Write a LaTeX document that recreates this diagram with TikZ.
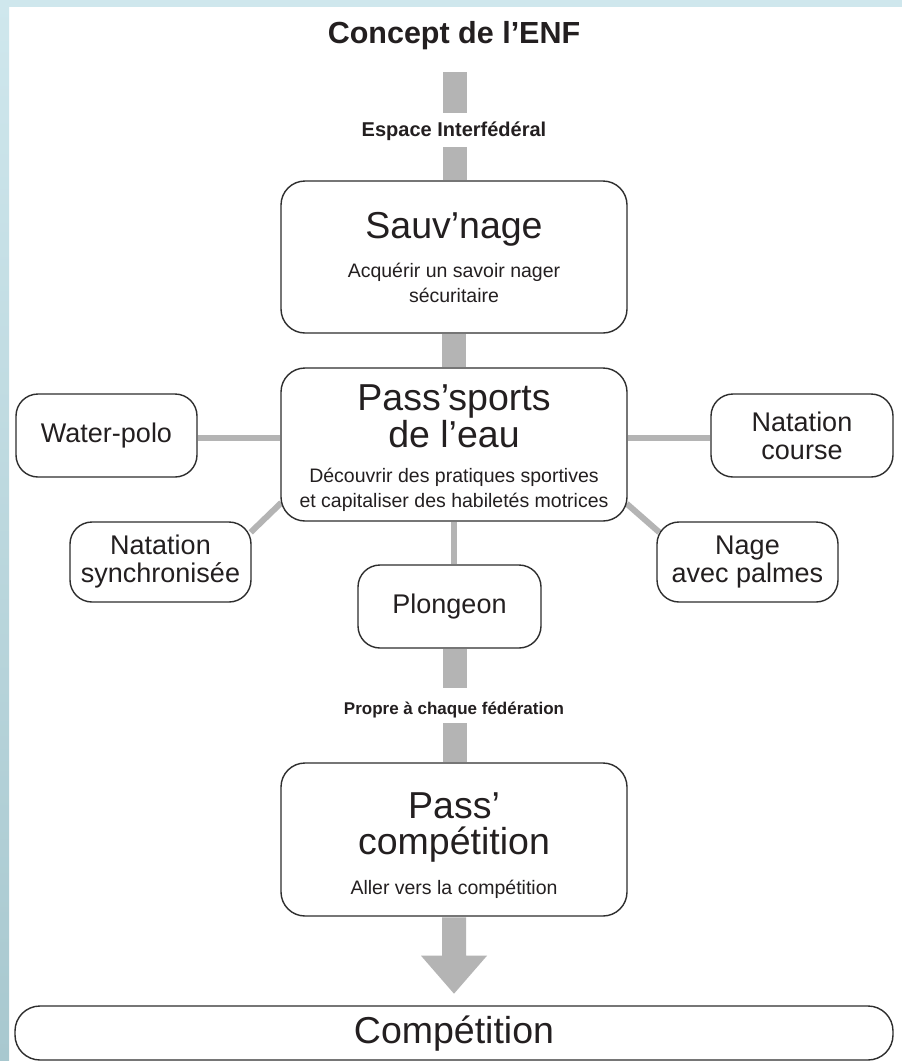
\documentclass[tikz,border=0pt]{standalone}
\usepackage{fontspec}
\setmainfont{Liberation Sans}
\usetikzlibrary{calc}
\pgfdeclarelayer{bg}
\pgfdeclarelayer{links}
\pgfsetlayers{bg,links,main}
\definecolor{txt}{HTML}{231F20}
\definecolor{barc}{HTML}{B4B4B4}
\definecolor{edge}{HTML}{2E2E2E}
\definecolor{bgtop}{HTML}{CFE7ED}
\definecolor{bgbot}{HTML}{A8C8CF}
\begin{document}
\begin{tikzpicture}[x=1pt,y=-1pt,
  box/.style={draw=edge, line width=1.4pt, rounded corners=24pt, fill=white, inner sep=0pt},
  sidebox/.style={box, rounded corners=22pt, align=center, text=txt,
    font=\fontsize{27}{28}\selectfont},
  bigtxt/.style={anchor=base, text=txt, inner sep=0pt, font=\fontsize{37.5}{40}\selectfont},
  desctxt/.style={anchor=base, text=txt, inner sep=0pt, font=\fontsize{19.5}{22}\selectfont},
  lbl/.style={anchor=base, text=txt, inner sep=0pt, font=\bfseries\fontsize{20}{22}\selectfont},
  thickbar/.style={draw=barc, line width=24pt, line cap=butt},
  link/.style={draw=barc, line width=6pt, line cap=butt}
]
\useasboundingbox (0,0) rectangle (902,1061);
% background frame
\begin{pgfonlayer}{bg}
\fill[white] (0,0) rectangle (902,1061);
\fill[bgtop] (0,0) rectangle (902,7);
\shade[top color=bgtop, bottom color=bgbot] (0,0) rectangle (9,1061);
\end{pgfonlayer}

% title
\node[anchor=base, text=txt, inner sep=0pt, font=\bfseries\fontsize{30.5}{34}\selectfont] (title) at (454,43) {Concept de l’ENF};

% bar end coordinates
\coordinate (b1) at (454.5,72);
\coordinate (b2) at (454.5,113);
\coordinate (b3) at (454.5,147);
\coordinate (b4) at (454.5,688);
\coordinate (b5) at (454.5,723);

% main boxes
\node[box, minimum width=346pt, minimum height=152pt] (sauv) at (454,257) {};
\node[box, minimum width=346pt, minimum height=153pt] (pass) at (454,444.5) {};
\node[box, minimum width=346pt, minimum height=153pt] (pc) at (454,839.5) {};

% side boxes
\node[sidebox, minimum width=181pt, minimum height=83pt] (wp) at (106.5,435.5) {Water-polo};
\node[sidebox, minimum width=182pt, minimum height=83pt] (nc) at (802,435.5) {Natation\\course};
\node[sidebox, minimum width=181pt, minimum height=80pt] (ns) at (160.5,562) {Natation\\synchronisée};
\node[sidebox, minimum width=181pt, minimum height=80pt] (nap) at (747.5,562) {Nage\\avec palmes};
\node[sidebox, minimum width=183pt, minimum height=83pt] (pl) at (449.5,606.5) {Plongeon};

% labels on the central bar
\node[lbl] (esp) at (454,136.5) {Espace Interfédéral};
\node[lbl, font=\bfseries\fontsize{17}{20}\selectfont] (prop) at (454,714) {Propre à chaque fédération};

% connectors behind the boxes
\begin{pgfonlayer}{links}
\draw[thickbar] (b1) -- (b2);
\draw[thickbar] (b3) -- (b3 |- sauv.north);
\draw[thickbar] (sauv.south) -- (pass.north);
\draw[link] ($(wp.east)+(0,2.5)$) -- ($(pass.west)+(0,-6.5)$);
\draw[link] ($(nc.west)+(0,2.5)$) -- ($(pass.east)+(0,-6.5)$);
\draw[link] ($(pass.south west)+(1,-19)$) -- ($(ns.north east)+(-1,11)$);
\draw[link] ($(pass.south east)+(-1,-18)$) -- ($(nap.north west)+(3,11)$);
\draw[link] (pass.south) -- (pass.south |- pl.north);
\draw[thickbar] (pl.south -| b4) -- (b4);
\draw[thickbar] (b5) -- (b5 |- pc.north);
\end{pgfonlayer}

% texts in main boxes
\node[bigtxt] (sauvt) at (454,238) {Sauv’nage};
\node[desctxt] (sauvd1) at (454,277) {Acquérir un savoir nager};
\node[desctxt] (sauvd2) at (454,302) {sécuritaire};

\node[bigtxt] (passt1) at (454,410) {Pass’sports};
\node[bigtxt] (passt2) at (454,447) {de l’eau};
\node[desctxt] (passd1) at (454,482) {Découvrir des pratiques sportives};
\node[desctxt] (passd2) at (454,507) {et capitaliser des habiletés motrices};

\node[bigtxt] (pct1) at (454,818) {Pass’};
\node[bigtxt] (pct2) at (454,854) {compétition};
\node[desctxt] (pcd) at (454,894) {Aller vers la compétition};

% big arrow
\fill[barc] ($(pc.south)+(-12,0.7)$) -- ++(0,38.3) -- ++(-21,0) -- ($(pc.south)+(0,77)$)
  -- ($(pc.south)+(33,39)$) -- ++(-21,0) -- ($(pc.south)+(12,0.7)$) -- cycle;

% competition bar
\node[box, rounded corners=25pt, minimum width=878pt, minimum height=54pt] (comp) at (454,1033) {};
\node[bigtxt] (compt) at (454,1043) {Compétition};
\end{tikzpicture}
\end{document}
